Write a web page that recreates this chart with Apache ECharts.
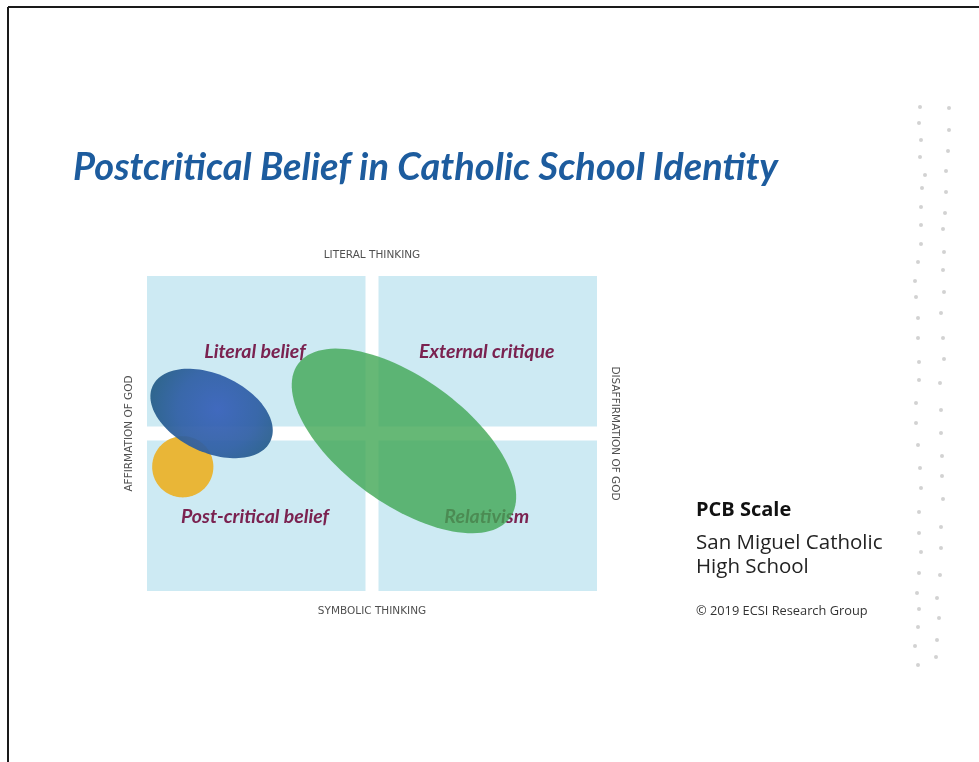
<!DOCTYPE html>
<html><head><meta charset="utf-8">
<script src="https://cdn.jsdelivr.net/npm/echarts@6/dist/echarts.min.js"></script>
<style>html,body{margin:0;padding:0;background:#fff;}#c{width:979px;height:762px;}</style>
</head><body><div id="c"></div>
<script>
// ---- data ----
const titleText = 'Postcritical Belief in Catholic School Identity';
const xAxisNames = ['SYMBOLIC THINKING', 'LITERAL THINKING'];      // bottom, top
const yAxisNames = ['AFFIRMATION OF GOD', 'DISAFFIRMATION OF GOD']; // left, right
const quadrantNames = ['Literal belief', 'External critique', 'Post-critical belief', 'Relativism'];
const quadrantX0 = [-10, 0, -10, 0];
const quadrantX1 = [0, 10, 0, 10];
const quadrantY0 = [0, 0, -7, -7];
const quadrantY1 = [7, 7, 0, 0];
const quadrantLabelX = [-5.2, 5.1, -5.2, 5.1];
const quadrantLabelY = [3.62, 3.62, -3.71, -3.71];
const groupNames = ['Yellow group', 'Blue group', 'Green group'];
const groupCenterX = [-8.41, -7.13, 1.42];
const groupCenterY = [-1.48, 0.89, -0.33];
const groupSemiMajor = [1.36, 2.89, 5.82];
const groupSemiMinor = [1.36, 1.73, 2.80];
const groupAngle = [0, -25, -36];
const sideHeading = 'PCB Scale';
const sideLines = ['San Miguel Catholic', 'High School'];
const copyrightText = '\u00A9 2019 ECSI Research Group';

// ---- styles ----
const groupFills = [
  '#e9b637',
  new echarts.graphic.RadialGradient(0.55, 0.45, 0.75, [
    {offset: 0, color: 'rgba(54,96,186,0.93)'},
    {offset: 0.6, color: 'rgba(46,94,164,0.93)'},
    {offset: 1, color: 'rgba(36,92,136,0.93)'}
  ]),
  'rgba(64,166,84,0.8)'
];

const chart = echarts.init(document.getElementById('c'), null, {renderer: 'canvas'});

const quadData = quadrantNames.map((n, i) => [quadrantX0[i], quadrantX1[i], quadrantY0[i], quadrantY1[i]]);
const labelData = quadrantNames.map((n, i) => [quadrantLabelX[i], quadrantLabelY[i], i]);
const ellipseData = groupNames.map((n, i) => [groupCenterX[i], groupCenterY[i], groupSemiMajor[i], groupSemiMinor[i], groupAngle[i], i]);

// decorative dot columns (slide decoration)
const dotPts = [
  [920,107],[919,123],[921,140],[920,157],[925,175],[922,188],[921,207],[921,225],[921,244],[918,262],[915,281],[916,297],[918,318],[918,338],[919,362],[919,380],
  [916,403],[916,423],[918,445],[920,468],[921,488],[919,512],[919,533],[921,552],[919,573],[917,593],[919,609],[918,627],[915,646],[918,665],
  [949,108],[949,130],[948,151],[946,171],[946,192],[945,213],[943,229],[944,252],[943,270],[944,292],[941,313],[943,338],[944,359],[940,383],
  [941,410],[941,433],[942,456],[942,476],[943,499],[941,527],[941,548],[940,575],[937,598],[939,618],[937,640],[936,657]
];

const graphics = [
  {type: 'line', shape: {x1: 8, y1: 7, x2: 979, y2: 7}, style: {stroke: '#1a1a1a', lineWidth: 2}},
  {type: 'line', shape: {x1: 8, y1: 7, x2: 8, y2: 762}, style: {stroke: '#1a1a1a', lineWidth: 2}},
  {type: 'text', left: 696, top: 500, style: {text: sideHeading, font: 'bold 20px "Open Sans"', fill: '#111'}},
  {type: 'text', left: 696, top: 533, style: {text: sideLines[0], font: '20.5px "Open Sans"', fill: '#222'}},
  {type: 'text', left: 696, top: 557, style: {text: sideLines[1], font: '20.5px "Open Sans"', fill: '#222'}},
  {type: 'text', left: 696, top: 605, style: {text: copyrightText, font: '12.8px "Open Sans"', fill: '#333'}}
].concat(dotPts.map(p => ({type: 'circle', shape: {cx: p[0], cy: p[1], r: 2}, style: {fill: '#d2d2d2'}, silent: true})));

const axisCommon = {
  type: 'value', min: -10, max: 10,
  axisLine: {show: false}, axisTick: {show: false}, axisLabel: {show: false}, splitLine: {show: false},
  nameLocation: 'middle',
  nameTextStyle: {fontFamily: 'DejaVu Sans', fontSize: 10.5, color: '#505050'}
};

chart.setOption({
  animation: false,
  backgroundColor: '#ffffff',
  title: {
    text: titleText, left: 68, top: 144,
    textStyle: {fontFamily: 'Lato', fontStyle: 'italic', fontWeight: 'bold', fontSize: 38, color: '#1d5c9e'}
  },
  grid: {left: 147, top: 276, width: 450, height: 315},
  xAxis: [
    Object.assign({}, axisCommon, {position: 'bottom', name: xAxisNames[0], nameGap: 15}),
    Object.assign({}, axisCommon, {position: 'top', name: xAxisNames[1], nameGap: 15})
  ],
  yAxis: [
    Object.assign({}, axisCommon, {min: -7, max: 7, position: 'left', name: yAxisNames[0], nameGap: 12, nameRotate: 90}),
    Object.assign({}, axisCommon, {min: -7, max: 7, position: 'right', name: yAxisNames[1], nameGap: 12, nameRotate: -90})
  ],
  graphic: graphics,
  series: [
    {
      type: 'custom', name: 'Quadrants', xAxisIndex: 0, yAxisIndex: 0,
      encode: {x: [0, 1], y: [2, 3]},
      data: quadData,
      renderItem: function (params, api) {
        const x0 = api.value(0), x1 = api.value(1), y0 = api.value(2), y1 = api.value(3);
        const tl = api.coord([x0, y1]), br = api.coord([x1, y0]);
        let l = tl[0], t = tl[1], r = br[0], b = br[1];
        if (x0 === 0) l += 6.5;
        if (x1 === 0) r -= 6.5;
        if (y0 === 0) b -= 7;
        if (y1 === 0) t += 7;
        return {type: 'rect', shape: {x: l, y: t, width: r - l, height: b - t}, style: {fill: '#cdeaf3'}};
      }
    },
    {
      type: 'custom', name: 'Quadrant labels', xAxisIndex: 0, yAxisIndex: 0,
      encode: {x: 0, y: 1},
      data: labelData,
      renderItem: function (params, api) {
        const p = api.coord([api.value(0), api.value(1)]);
        return {type: 'text', x: p[0], y: p[1], style: {
          text: quadrantNames[api.value(2)], font: 'italic bold 19.5px Lato', fill: '#7a2250',
          align: 'center', verticalAlign: 'middle'}};
      }
    },
    {
      type: 'custom', name: 'Groups', xAxisIndex: 0, yAxisIndex: 0,
      encode: {x: 0, y: 1},
      data: ellipseData,
      renderItem: function (params, api) {
        const cx = api.value(0), cy = api.value(1), a = api.value(2), b = api.value(3);
        const th = api.value(4) * Math.PI / 180, idx = api.value(5);
        const pts = [];
        for (let k = 0; k < 120; k++) {
          const t = k / 120 * Math.PI * 2;
          const px = cx + a * Math.cos(t) * Math.cos(th) - b * Math.sin(t) * Math.sin(th);
          const py = cy + a * Math.cos(t) * Math.sin(th) + b * Math.sin(t) * Math.cos(th);
          pts.push(api.coord([px, py]));
        }
        return {type: 'polygon', shape: {points: pts}, style: {fill: groupFills[idx]}};
      }
    }
  ]
});
</script></body></html>
